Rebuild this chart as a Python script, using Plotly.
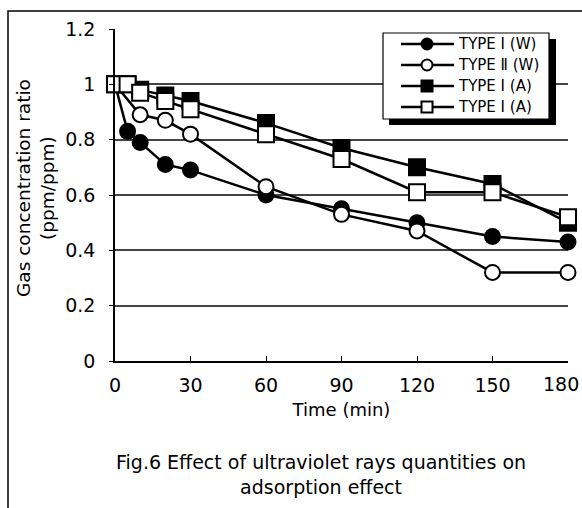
import plotly.graph_objects as go

# ---- data ----
time_w1 = [0, 5, 10, 20, 30, 60, 90, 120, 150, 180]
type1_w = [1.0, 0.83, 0.79, 0.71, 0.69, 0.60, 0.55, 0.50, 0.45, 0.43]

time_w2 = [0, 10, 20, 30, 60, 90, 120, 150, 180]
type2_w = [1.0, 0.89, 0.87, 0.82, 0.63, 0.53, 0.47, 0.32, 0.32]

time_a = [0, 5, 10, 20, 30, 60, 90, 120, 150, 180]
type1_a_filled = [1.0, 1.0, 0.98, 0.96, 0.94, 0.86, 0.77, 0.70, 0.64, 0.50]
type1_a_open = [1.0, 1.0, 0.97, 0.94, 0.91, 0.82, 0.73, 0.61, 0.61, 0.52]

names = ["TYPE Ⅰ (W)", "TYPE Ⅱ (W)", "TYPE Ⅰ (A)", "TYPE Ⅰ (A)"]
x_ticks = [0, 30, 60, 90, 120, 150, 180]
x_tick_text = ["0", "30", "60", "90", "120", "150", ""]
last_tick_label = "180"
y_ticks = [0, 0.2, 0.4, 0.6, 0.8, 1.0, 1.2]
y_tick_text = ["0", "0.2", "0.4", "0.6", "0.8", "1", "1.2"]

FONT = "DejaVu Sans, Noto Sans CJK JP, sans-serif"

symbols = ["circle", "circle", "square", "square"]
fills = ["black", "white", "black", "white"]
sizes = [15, 15, 16, 16]

fig = go.Figure()
series = [(time_w1, type1_w), (time_w2, type2_w),
          (time_a, type1_a_filled), (time_a, type1_a_open)]
for (xs, ys), nm, sym, fill, sz in zip(series, names, symbols, fills, sizes):
    fig.add_trace(go.Scatter(
        x=xs, y=ys, name=nm, mode="lines+markers",
        line=dict(color="black", width=2.5),
        marker=dict(symbol=sym, size=sz, color=fill,
                    line=dict(color="black", width=2)),
        cliponaxis=False, showlegend=False,
    ))

W, H = 582, 508
L, R, T, B = 115, 14, 29, 147
pw = W - L - R
ph = H - T - B

def px_x(p):
    return (p - L) / pw

def px_y(p):
    return (H - B - p) / ph

fig.update_layout(
    width=W, height=H,
    margin=dict(l=L, r=R, t=T, b=B, pad=0),
    paper_bgcolor="white", plot_bgcolor="white",
    font=dict(family=FONT, color="black", size=19),
    showlegend=False,
    xaxis=dict(
        range=[0, 180], tickvals=x_ticks, ticktext=x_tick_text,
        ticks="inside", ticklen=5,
        tickcolor="black", showline=True, linecolor="black", linewidth=1.5,
        showgrid=False, zeroline=False, tickfont=dict(size=19),
        ticklabelstandoff=6,
        title=dict(text="Time (min)", font=dict(size=18), standoff=9),
    ),
    yaxis=dict(
        range=[0, 1.2], tickvals=y_ticks, ticktext=y_tick_text,
        ticks="outside", ticklen=4, tickcolor="black",
        showline=True, linecolor="black", linewidth=1.5,
        showgrid=True, gridcolor="#444444", gridwidth=1.5,
        zeroline=False, tickfont=dict(size=19), ticklabelstandoff=10,
    ),
)

# last x tick label, kept inside the right edge
fig.add_annotation(
    text=last_tick_label, x=px_x(581), xref="paper", y=px_y(384), yref="paper",
    xanchor="right", yanchor="middle", showarrow=False,
    font=dict(size=19, family=FONT),
)
# y-axis title (two lines, rotated)
fig.add_annotation(
    text="Gas concentration ratio<br>(ppm/ppm)", textangle=-90,
    x=px_x(35), y=px_y(188), xref="paper", yref="paper",
    xanchor="center", yanchor="middle",
    showarrow=False, font=dict(size=18.5, family=FONT),
)
# caption
fig.add_annotation(
    text="Fig.6 Effect of ultraviolet rays quantities on<br>adsorption effect",
    x=px_x(321), y=px_y(474), xref="paper", yref="paper",
    xanchor="center", yanchor="middle",
    showarrow=False, font=dict(size=19, family=FONT),
)
# outer frame
fig.add_shape(type="rect", xref="paper", yref="paper",
              x0=px_x(8), x1=px_x(600), y0=px_y(530), y1=px_y(11),
              line=dict(color="black", width=1.5), fillcolor="rgba(0,0,0,0)",
              layer="above")

# ---- legend (drawn manually to match the boxed, shadowed legend) ----
bx0, bx1, by0, by1 = 383, 549, 33, 119
fig.add_shape(type="rect", xref="paper", yref="paper",
              x0=px_x(bx0 + 6), x1=px_x(bx1 + 7), y0=px_y(by1 + 6), y1=px_y(by0 + 6),
              line=dict(width=0), fillcolor="black", layer="above")
fig.add_shape(type="rect", xref="paper", yref="paper",
              x0=px_x(bx0), x1=px_x(bx1), y0=px_y(by1), y1=px_y(by0),
              line=dict(color="black", width=1.2), fillcolor="white", layer="above")
row_y = [44, 65, 86, 107]
lx0, lx1, mx, tx = 401, 454, 427, 456
r = 5.5
for ry, nm, sym, fill in zip(row_y, names, symbols, fills):
    fig.add_shape(type="line", xref="paper", yref="paper",
                  x0=px_x(lx0), x1=px_x(lx1), y0=px_y(ry), y1=px_y(ry),
                  line=dict(color="black", width=2.5), layer="above")
    fig.add_shape(type="circle" if sym == "circle" else "rect",
                  xref="paper", yref="paper",
                  x0=px_x(mx - r), x1=px_x(mx + r), y0=px_y(ry + r), y1=px_y(ry - r),
                  line=dict(color="black", width=2), fillcolor=fill, layer="above")
    fig.add_annotation(text=nm, x=px_x(tx), y=px_y(ry), xref="paper", yref="paper",
                       xanchor="left", yanchor="middle", showarrow=False,
                       font=dict(size=15, family=FONT))

fig.write_html("out.html")
